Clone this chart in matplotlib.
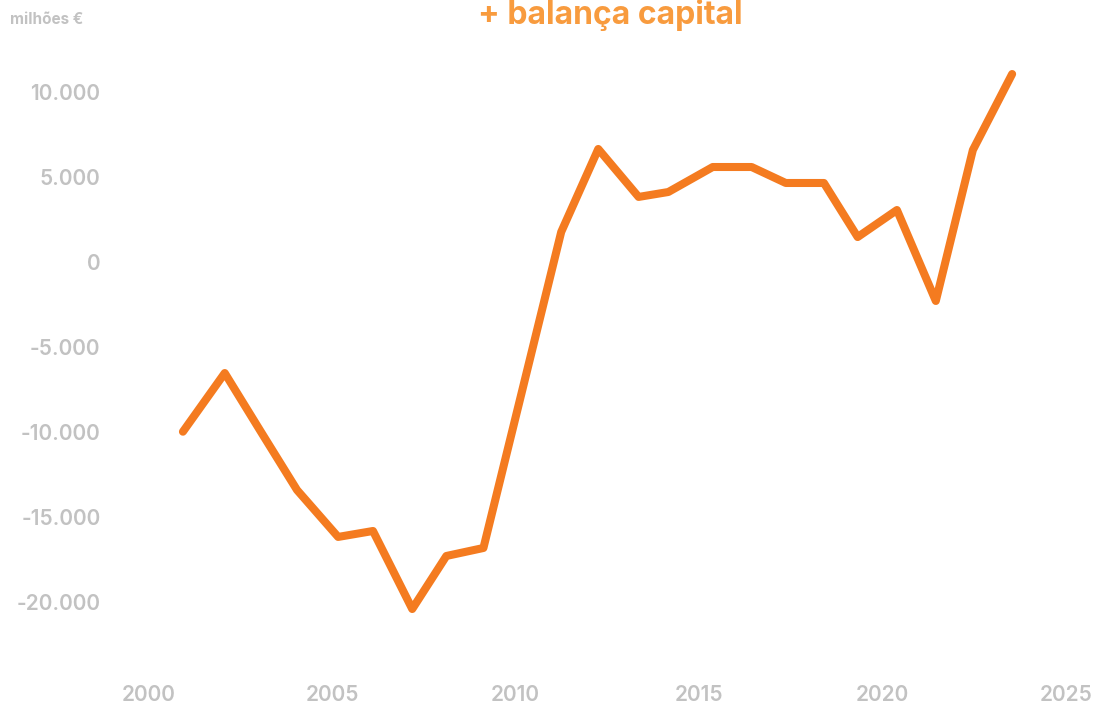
import matplotlib
matplotlib.use("Agg")
import matplotlib.pyplot as plt
from matplotlib.ticker import FuncFormatter

# posição no eixo temporal e valores em milhões de euros
anos = [2000.93, 2002.07, 2003.06, 2004.04, 2005.16, 2006.11, 2007.18, 2008.11,
        2009.12, 2010.18, 2011.24, 2012.25, 2013.35, 2014.16, 2015.37, 2016.43,
        2017.36, 2018.40, 2019.32, 2020.39, 2021.45, 2022.46, 2023.53]
balanca = [-10000, -6550, -10020, -13430, -16190, -15840, -20430, -17310,
           -16840, -7550, 1750, 6630, 3810, 4100, 5570, 5570,
           4630, 4630, 1450, 3040, -2310, 6570, 11040]

x_ticks = [2000, 2005, 2010, 2015, 2020, 2025]
y_ticks = [10000, 5000, 0, -5000, -10000, -15000, -20000]

LARANJA = '#f47b20'
TITULO = '#f89b3e'
CINZA = '#c2c2c2'

plt.rcParams['font.family'] = ['Inter', 'DejaVu Sans']

fig = plt.figure(figsize=(10.93, 7.07), dpi=100)
ax = fig.add_axes([120 / 1093, 1 - 660 / 707, (1085 - 120) / 1093, (660 - 30) / 707])

ax.plot(anos, balanca, color=LARANJA, linewidth=5.8,
        solid_capstyle='round', solid_joinstyle='round')

ax.set_xlim(1999.215, 2025.516)
ax.set_ylim(-23429, 13629)
ax.set_xticks(x_ticks)
ax.set_yticks(y_ticks)


def fmt_milhares(v, pos):
    return f'{int(v):,}'.replace(',', '.')


ax.yaxis.set_major_formatter(FuncFormatter(fmt_milhares))
ax.tick_params(axis='both', length=0, labelsize=15, labelcolor=CINZA)
ax.tick_params(axis='y', pad=14)
ax.tick_params(axis='x', pad=18)
for lbl in ax.get_xticklabels() + ax.get_yticklabels():
    lbl.set_fontweight('semibold')

for s in ax.spines.values():
    s.set_visible(False)

fig.text(10 / 1093, 1 - 20 / 707, 'milhões €', fontsize=11, fontweight='bold',
         color=CINZA, ha='left', va='center')
fig.text(610 / 1093, 1 - 15 / 707, '+ balança capital', fontsize=23,
         fontweight='bold', color=TITULO, ha='center', va='center')

fig.savefig('out.png', dpi=100)
